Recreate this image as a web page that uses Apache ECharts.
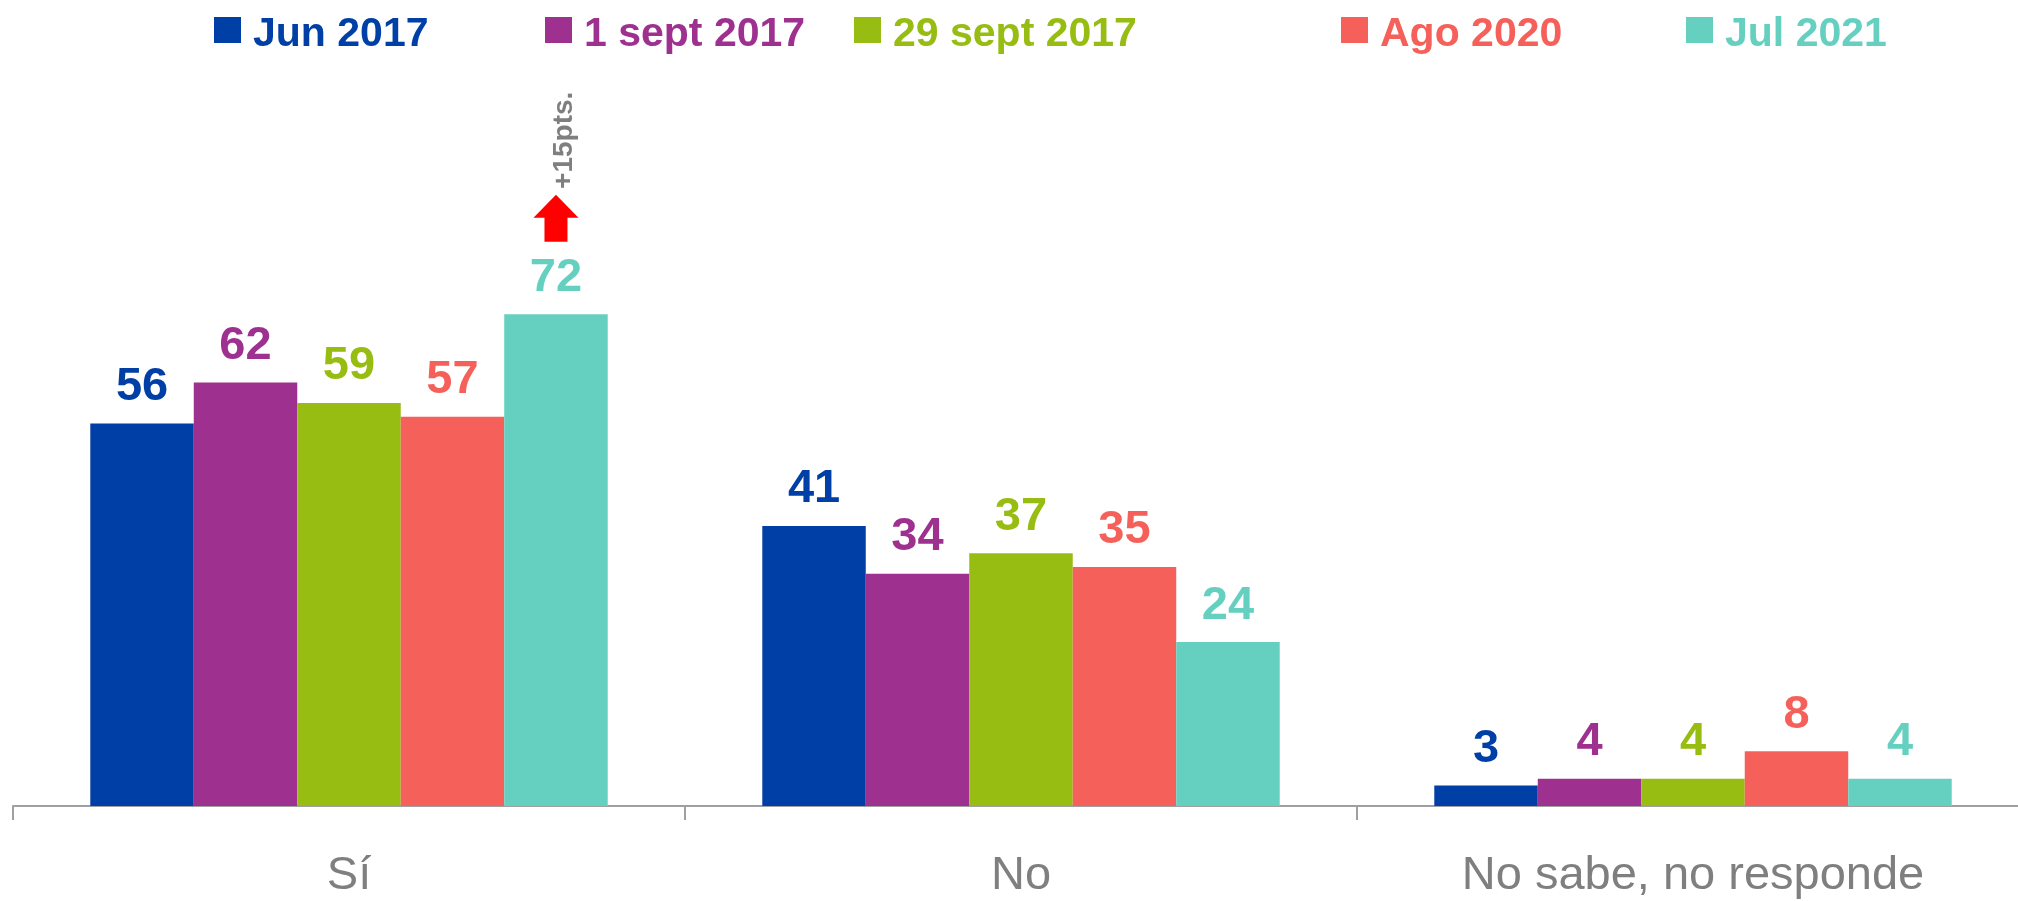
<!DOCTYPE html>
<html><head><meta charset="utf-8">
<script src="https://cdn.jsdelivr.net/npm/echarts@6/dist/echarts.min.js"></script>
<style>html,body{margin:0;padding:0;background:#fff}#c{width:2018px;height:901px}</style>
</head><body><div id="c"></div>
<script>
const categories = ['Sí', 'No', 'No sabe, no responde'];
const seriesNames = ['Jun 2017', '1 sept 2017', '29 sept 2017', 'Ago 2020', 'Jul 2021'];
const jun2017 = [56, 41, 3];
const sept1_2017 = [62, 34, 4];
const sept29_2017 = [59, 37, 4];
const ago2020 = [57, 35, 8];
const jul2021 = [72, 24, 4];
const annotationText = '+15pts.';

const values = [jun2017, sept1_2017, sept29_2017, ago2020, jul2021];
const colors = ['#0040A6', '#9E3190', '#97BC12', '#F5615A', '#66D0C0'];
const FONT = '"Liberation Sans", Arial, sans-serif';
const legendLeft = [209, 540, 849, 1336, 1681];

const chart = echarts.init(document.getElementById('c'), null, {renderer: 'canvas'});

const series = seriesNames.map((name, i) => {
  const s = {
    name, type: 'bar', data: values[i],
    barGap: '0%', barCategoryGap: '23%',
    itemStyle: {color: colors[i]},
    label: {show: true, position: 'top', distance: 13, color: colors[i],
      fontFamily: FONT, fontWeight: 'bold', fontSize: 47},
    emphasis: {disabled: true}
  };
  if (i === 4) {
    s.markPoint = {
      silent: true,
      animation: false,
      data: [
        {coord: [categories[0], jul2021[0]], symbol: 'path://M22.5,0 L45,23 L34,23 L34,47 L11,47 L11,23 L0,23 Z',
          symbolSize: [45, 47], symbolOffset: [0, -96], itemStyle: {color: '#FF0000'}, label: {show: false}},
        {coord: [categories[0], jul2021[0]], symbol: 'rect', symbolSize: 1, itemStyle: {color: 'rgba(0,0,0,0)'},
          label: {show: true, formatter: annotationText, position: 'inside', rotate: 90, offset: [174, 8],
            color: '#7F7F7F', fontFamily: FONT, fontWeight: 'bold', fontSize: 28}}
      ]
    };
  }
  return s;
});

const legends = seriesNames.map((name, i) => ({
  data: [name], left: legendLeft[i], top: 9, icon: 'rect', itemWidth: 27, itemHeight: 26,
  selectedMode: false,
  formatter: '{a|{name}}',
  textStyle: {
    color: colors[i], fontFamily: FONT, fontWeight: 'bold', fontSize: 41,
    rich: {a: {color: colors[i], fontFamily: FONT, fontWeight: 'bold', fontSize: 41, padding: [9, 0, 0, 7]}}
  }
}));

chart.setOption({
  animation: false,
  legend: legends,
  grid: {left: 13, width: 2016, top: 123, height: 683, containLabel: false, outerBoundsMode: 'none'},
  xAxis: {
    type: 'category', data: categories,
    axisLine: {lineStyle: {color: '#A0A0A0', width: 2}},
    axisTick: {show: true, length: 14, lineStyle: {color: '#A0A0A0', width: 2}},
    axisLabel: {color: '#7F7F7F', fontFamily: FONT, fontSize: 47, margin: 47}
  },
  yAxis: {type: 'value', min: 0, max: 100, show: false, splitLine: {show: false}},
  series
});
</script></body></html>
